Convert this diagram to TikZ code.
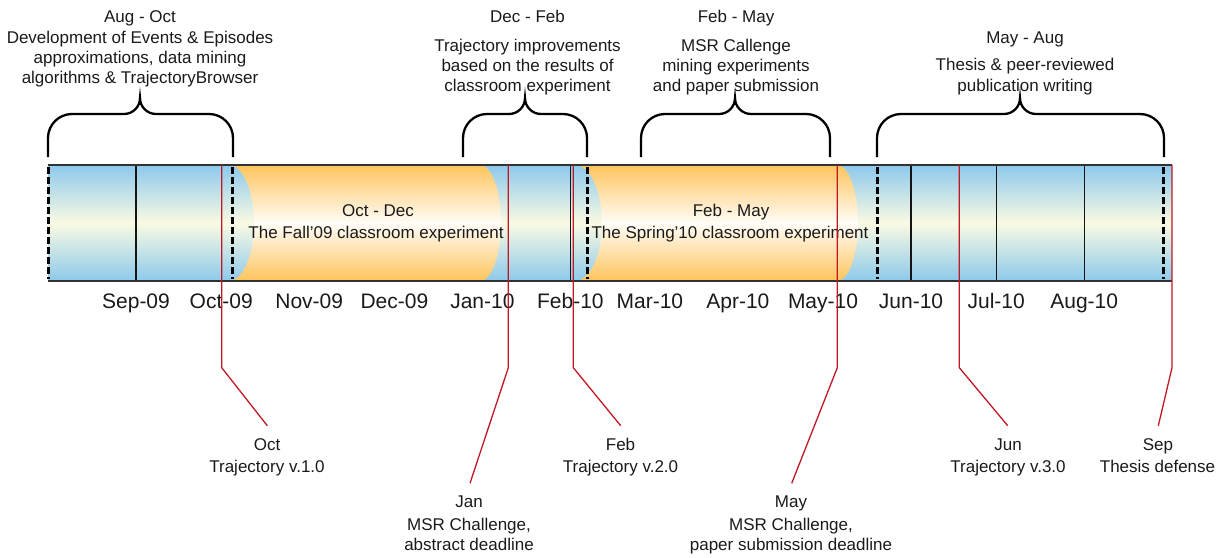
\documentclass[tikz,border=0pt]{standalone}
\usepackage{fontspec}
\setmainfont{Liberation Sans}
\definecolor{barblue}{RGB}{141,201,236}
\definecolor{barcream}{RGB}{250,250,226}
\definecolor{canorange}{RGB}{254,196,92}
\definecolor{canlight}{RGB}{255,253,248}
\definecolor{evred}{RGB}{192,24,36}
\definecolor{gridgray}{RGB}{20,20,20}
\definecolor{edgegray}{RGB}{50,50,50}
\definecolor{txtgray}{RGB}{26,26,26}
\begin{document}
\begin{tikzpicture}[x=1pt,y=1pt,
  lbl/.style={font=\fontsize{17}{20}\selectfont, inner sep=0pt, anchor=base, text=txtgray},
  month/.style={font=\fontsize{21}{24}\selectfont, inner sep=0pt, anchor=base, text=txtgray},
  monthline/.style={line width=1.4pt, draw=gridgray},
  baredge/.style={line width=1.8pt, draw=edgegray},
  eventline/.style={line width=1.3pt, draw=evred},
  phaseline/.style={line width=3pt, dash pattern=on 6.5pt off 3.5pt, draw=black},
  bracestyle/.style={line width=2.3pt, draw=black},
  bluefill/.style={top color=barblue, bottom color=barblue, middle color=barcream},
  canfill/.style={top color=canorange, bottom color=canorange, middle color=canlight}
]
\useasboundingbox (0,0) rectangle (1225,-557);

% timeline bar
\shade[bluefill] (48,-165) rectangle (1172,-281);

% month boundaries (first day of each month)
\foreach \m in {136,221.2,309.2,394.4,482.4,570.4,649.9,737.9,823,911,996.2,1084.2}
  \draw[monthline] (\m,-165) -- (\m,-281);

% classroom experiments
\shade[canfill] (229,-165) -- (480,-165)
  arc[start angle=90, end angle=-90, x radius=21, y radius=58]
  -- (229,-281) arc[start angle=-90, end angle=90, x radius=25, y radius=58] -- cycle;
\shade[canfill] (575,-165) -- (837,-165)
  arc[start angle=90, end angle=-90, x radius=21, y radius=58]
  -- (575,-281) arc[start angle=-90, end angle=90, x radius=27, y radius=58] -- cycle;

% bar outline
\draw[baredge] (48,-165) -- (1172,-165);
\draw[baredge] (48,-281) -- (1172,-281);

% phase boundaries
\foreach \p in {48,232.7,587.3,877.3,1163.3}
  \draw[phaseline] (\p,-167) -- (\p,-279);

% phase braces
\foreach \a/\b/\m in {48/233/140, 463/587/525, 641/830/735, 877/1164/1020}
  \draw[bracestyle] (\a,-157) -- (\a,-138) arc[start angle=180, end angle=90, radius=24]
    -- (\m-16,-114) arc[start angle=270, end angle=360, radius=16]
    arc[start angle=180, end angle=270, radius=16]
    -- (\b-24,-114) arc[start angle=90, end angle=0, radius=24] -- (\b,-157);

% phase descriptions
\foreach \t/\y [count=\i] in {{Aug - Oct}/22, {Development of Events \& Episodes}/43,
    {approximations, data mining}/63, {algorithms \& TrajectoryBrowser}/83}
  \node[lbl] (augoct\i) at (140,-\y) {\t};
\foreach \t/\y [count=\i] in {{Dec - Feb}/22, {Trajectory improvements}/51,
    {based on the results of}/71, {classroom experiment}/91}
  \node[lbl] (decfeb\i) at (527.5,-\y) {\t};
\foreach \t/\y [count=\i] in {{Feb - May}/22, {MSR Callenge}/51,
    {mining experiments}/71, {and paper submission}/91}
  \node[lbl] (febmay\i) at (736,-\y) {\t};
\foreach \t/\y [count=\i] in {{May - Aug}/43, {Thesis \& peer-reviewed}/70.5,
    {publication writing}/91}
  \node[lbl] (mayaug\i) at (1025,-\y) {\t};

% experiment captions
\node[lbl] (fallhead) at (378,-216.7) {Oct - Dec};
\node[lbl] (falltext) at (376,-238.7) {The Fall’09 classroom experiment};
\node[lbl] (springhead) at (731,-216.7) {Feb - May};
\node[lbl] (springtext) at (730,-238.7) {The Spring’10 classroom experiment};

% month labels
\foreach \x/\t [count=\i] in {136/Sep-09, 221.2/Oct-09, 309.2/Nov-09, 394.4/Dec-09,
    482.4/Jan-10, 570.4/Feb-10, 649.9/Mar-10, 737.9/Apr-10, 823/May-10,
    911/Jun-10, 996.2/Jul-10, 1084.2/Aug-10}
  \node[month] (month\i) at (\x,-308) {\t};

% milestone captions
\node[lbl] (octhead) at (267,-450) {Oct};
\node[lbl] (octtext) at (267,-472) {Trajectory v.1.0};
\node[lbl] (janhead) at (469,-507.7) {Jan};
\node[lbl] (jantext1) at (469,-530.7) {MSR Challenge,};
\node[lbl] (jantext2) at (469,-550) {abstract deadline};
\node[lbl] (febhead) at (620.5,-450) {Feb};
\node[lbl] (febtext) at (620.5,-472) {Trajectory v.2.0};
\node[lbl] (mayhead) at (791,-507.7) {May};
\node[lbl] (maytext1) at (791,-530.7) {MSR Challenge,};
\node[lbl] (maytext2) at (791,-550) {paper submission deadline};
\node[lbl] (junhead) at (1008,-450) {Jun};
\node[lbl] (juntext) at (1008,-472) {Trajectory v.3.0};
\node[lbl] (sephead) at (1158,-450) {Sep};
\node[lbl] (septext) at (1157.5,-472) {Thesis defense};

% milestone leaders
\foreach \n/\x/\ex/\ey in {oct/221.7/267.3/425.7, jan/508.3/470/483.3,
    feb/573.3/620.7/425.7, may/837.3/791.7/483.3,
    jun/959.3/1007.7/425.7, sep/1172/1158.3/425.7} {
  \coordinate (\n top) at (\x,-165);
  \coordinate (\n bend) at (\x,-367.7);
  \coordinate (\n end) at (\ex,-\ey);
  \draw[eventline] (\n top) -- (\n bend) -- (\n end);
}
\end{tikzpicture}
\end{document}
